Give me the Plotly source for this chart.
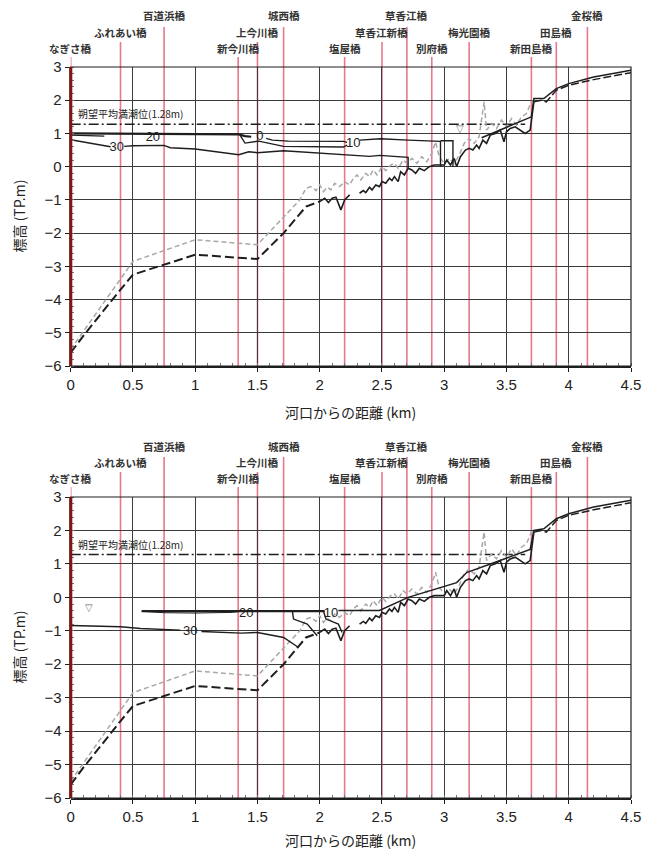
import plotly.graph_objects as go

# ---------------- data ----------------
bridge_names = ["なぎさ橋", "ふれあい橋", "百道浜橋", "新今川橋", "上今川橋", "城西橋", "塩屋橋",
                "草香江新橋", "草香江橋", "別府橋", "梅光園橋", "新田島橋", "田島橋", "金桜橋"]
bridge_km = [0.0, 0.40, 0.75, 1.345, 1.50, 1.71, 2.20, 2.50, 2.70, 2.90, 3.20, 3.70, 3.90, 4.15]
bridge_row = [3, 2, 1, 3, 2, 1, 3, 2, 1, 3, 2, 3, 2, 1]

x_ticks = [0, 0.5, 1, 1.5, 2, 2.5, 3, 3.5, 4, 4.5]
y_ticks = [-6, -5, -4, -3, -2, -1, 0, 1, 2, 3]

hwl_x = [0, 3.65]
hwl_y = [1.28, 1.28]
hwl_label = "朔望平均満潮位(1.28m)"

# bed profile (black long dash, smooth downstream part)
bed_dash_x = [0, 0.1, 0.4, 0.5, 0.75, 1.0, 1.5, 1.71, 1.89, 2.0]
bed_dash_y = [-5.6, -5.1, -3.7, -3.25, -2.95, -2.65, -2.78, -2.0, -1.2, -1.05]
# bed profile jagged (surveyed) part
bed_jag_x = [2.0, 2.04, 2.07, 2.1, 2.13, 2.17, 2.2, 2.24, None, 2.32, 2.35, 2.37, 2.40, 2.42,
             2.45, 2.48, 2.5, 2.53, 2.56, 2.58, 2.6, 2.63, 2.65, 2.68, 2.71, 2.74, 2.77, 2.8,
             2.84, 2.88, 2.92, 2.96, 3.0, 3.02, 3.05, 3.08, 3.1, 3.13, 3.17, 3.2, 3.23, 3.26,
             3.28, 3.31, 3.34, 3.37, 3.41, 3.45, 3.48, 3.5, 3.53, 3.57, 3.61, 3.65, 3.69, 3.72]
bed_jag_y = [-1.05, -0.95, -1.08, -0.95, -0.92, -1.3, -1.0, -0.85, None, -0.8, -0.72, -0.78, -0.62, -0.7,
             -0.55, -0.6, -0.45, -0.5, -0.35, -0.42, -0.3, -0.45, -0.15, -0.25, -0.05, -0.1, -0.2, -0.05,
             -0.12, 0.0, 0.05, 0.05, 0.05, 0.2, 0.05, 0.25, 0.0, 0.3, 0.5, 0.55, 0.5, 0.65,
             0.55, 0.8, 0.7, 0.95, 1.0, 1.1, 0.75, 1.05, 1.15, 1.2, 1.1, 1.0, 1.1, 1.95]
bed_up_x = [3.72, 3.78, 3.82, 3.9, 4.0, 4.2, 4.5]
bed_up_y = [1.95, 2.0, 1.95, 2.3, 2.45, 2.62, 2.83]

# older bed profile (light grey short dash)
bed2_x = [0, 0.5, 1.0, 1.5, 1.84, 1.89, 1.93, 1.97, 2.0, 2.03, 2.06, 2.09, 2.12, 2.16, 2.2, 2.24,
          2.27, 2.3, 2.33, 2.37, 2.4, 2.43, 2.46, 2.5, 2.53, 2.57, 2.6, 2.63, 2.67, 2.7, 2.74,
          2.78, 2.82, 2.86, 2.9, 2.93, 2.96, 3.0, 3.04, 3.08, 3.12, 3.16, 3.2, 3.24, 3.28, 3.3,
          3.32, 3.34, 3.38, 3.42, 3.46, 3.5, 3.54, 3.58, 3.62, 3.66, 3.7, 3.72]
bed2_y = [-5.5, -2.85, -2.2, -2.35, -1.0, -0.65, -0.6, -0.72, -0.55, -0.75, -0.62, -0.7, -0.5, -0.6, -0.45, -0.55,
          -0.35, -0.25, -0.4, -0.2, -0.3, -0.1, -0.25, 0.0, -0.12, 0.05, 0.1, -0.05, 0.2, 0.1, 0.25,
          0.1, 0.3, 0.15, 0.4, 0.75, 0.3, 0.1, 0.25, 0.1, 0.35, 0.7, 0.85, 0.7, 0.9, 1.45,
          1.95, 1.1, 1.3, 1.15, 1.4, 1.2, 1.45, 1.25, 1.5, 1.6, 1.95, 2.0]

# ---- upper panel: water surface / salinity contours ----
top_surf_x = [0, 0.6, 1.0, 1.35, 1.4, 1.45]
top_surf_y = [1.0, 0.99, 0.98, 0.97, 0.92, 0.9]
top_short_x = [0, 0.27]
top_short_y = [0.95, 0.92]
top_10a_x = [1.36, 1.40, 1.51, 1.71, 2.19, 2.22]
top_10a_y = [0.95, 0.71, 0.77, 0.61, 0.59, 0.65]
top_10b_x = [1.57, 1.62, 1.75, 2.19, 2.22]
top_10b_y = [0.85, 0.8, 0.77, 0.76, 0.73]
top_10c_x = [2.32, 2.49, 2.71, 2.97, 2.97, None, 2.97, 3.07, 3.07]
top_10c_y = [0.8, 0.84, 0.8, 0.76, 0.0, None, 0.78, 0.78, 0.0]
top_30_x = [0, 0.32, None, 0.43, 0.5, 0.75, 0.8, 1.0, 1.35, 1.43, 1.5, 1.71, 2.4, 2.48, 2.71, 2.71]
top_30_y = [0.81, 0.6, None, 0.61, 0.63, 0.64, 0.57, 0.53, 0.36, 0.45, 0.42, 0.48, 0.31, 0.34, 0.28, -0.05]
top_rise_x = [3.3, 3.7, 3.72, 3.8, 3.9, 4.0, 4.2, 4.5]
top_rise_y = [0.87, 1.5, 2.05, 2.05, 2.35, 2.5, 2.7, 2.9]
top_lab_text = ["0", "10", "20", "30"]
top_lab_x = [1.52, 2.27, 0.66, 0.37]
top_lab_y = [0.89, 0.69, 0.88, 0.56]
top_wl_x = [3.13]
top_wl_y = [1.12]

# ---- lower panel ----
bot_surf_x = [0.57, 2.04]
bot_surf_y = [-0.41, -0.41]
bot_surf2_x = [2.15, 2.48, 2.71, 3.1, 3.18, 3.69, 3.72, 3.8, 3.9, 4.0, 4.2, 4.5]
bot_surf2_y = [-0.39, -0.39, 0.0, 0.44, 0.74, 1.43, 2.0, 2.05, 2.35, 2.5, 2.7, 2.9]
bot_wedge_x = [0.57, 0.75, 1.0, 1.3, 1.36]
bot_wedge_y = [-0.42, -0.46, -0.47, -0.45, -0.42]
bot_30_x = [0, 0.4, 0.56, 0.88, None, 1.05, 1.37, 1.5, 1.71, 1.83]
bot_30_y = [-0.84, -0.88, -0.93, -0.98, None, -1.02, -1.07, -1.05, -1.2, -1.5]
bot_drop1_x = [1.78, 1.79, 1.9, 1.98]
bot_drop1_y = [-0.41, -0.65, -0.8, -1.15]
bot_drop2_x = [2.03, 2.05, 2.15, 2.18]
bot_drop2_y = [-0.41, -0.65, -0.8, -1.05]
bot_lab_text = ["20", "10", "30"]
bot_lab_x = [1.41, 2.09, 0.96]
bot_lab_y = [-0.5, -0.5, -1.04]
bot_wl_x = [0.15]
bot_wl_y = [-0.33]

# ---------------- figure ----------------
W, H = 658, 856
XL, XR = 70.7, 631.0
panels_px = [(67, 366), (497, 798)]   # (top, bottom) pixel rows of plot areas

BLACK = "#1e1e1e"
GRID = "#3c3c3c"
PINK = "rgb(232,120,140)"
DARKRED = "#7a1717"
GREY = "#a8a8a8"
LABEL_FONT = "Noto Sans CJK JP"
NUM_FONT = "Liberation Sans, Arial, sans-serif"

fig = go.Figure()


def line(xa, ya, x, y, color=BLACK, width=1.4, dash="solid"):
    fig.add_trace(go.Scatter(x=x, y=y, xaxis=xa, yaxis=ya, mode="lines",
                             line=dict(color=color, width=width, dash=dash),
                             connectgaps=False, showlegend=False, hoverinfo="skip"))


def text(xa, ya, x, y, t, size=12, color=BLACK):
    fig.add_trace(go.Scatter(x=x, y=y, xaxis=xa, yaxis=ya, mode="text", text=t,
                             textfont=dict(size=size, color=color, family=NUM_FONT),
                             showlegend=False, hoverinfo="skip", cliponaxis=False))


for i, (xa, ya) in enumerate([("x", "y"), ("x2", "y2")]):
    # reference lines and beds
    line(xa, ya, hwl_x, hwl_y, color=BLACK, width=1.5, dash="10px,3px,2px,3px")
    line(xa, ya, bed2_x, bed2_y, color=GREY, width=1.5, dash="5px,3px")
    line(xa, ya, bed_dash_x, bed_dash_y, color=BLACK, width=2, dash="9px,4px")
    line(xa, ya, bed_jag_x, bed_jag_y, color=BLACK, width=1.6)
    line(xa, ya, bed_up_x, bed_up_y, color=BLACK, width=1.5, dash="8px,3px")

    if i == 0:
        line(xa, ya, top_surf_x, top_surf_y, width=2.2)
        line(xa, ya, top_short_x, top_short_y, width=1.4)
        line(xa, ya, top_10a_x, top_10a_y)
        line(xa, ya, top_10b_x, top_10b_y)
        line(xa, ya, top_10c_x, top_10c_y)
        line(xa, ya, top_30_x, top_30_y)
        line(xa, ya, top_rise_x, top_rise_y, width=1.5)
        text(xa, ya, top_lab_x, top_lab_y, top_lab_text, size=13)
        text(xa, ya, top_wl_x, top_wl_y, ["▽"], size=10, color="#777")
    else:
        line(xa, ya, bot_surf_x, bot_surf_y, width=2.2)
        line(xa, ya, bot_surf2_x, bot_surf2_y, width=1.5)
        line(xa, ya, bot_wedge_x, bot_wedge_y, width=1.0)
        line(xa, ya, bot_30_x, bot_30_y)
        line(xa, ya, bot_drop1_x, bot_drop1_y)
        line(xa, ya, bot_drop2_x, bot_drop2_y)
        text(xa, ya, bot_lab_x, bot_lab_y, bot_lab_text, size=13)
        text(xa, ya, bot_wl_x, bot_wl_y, ["▽"], size=10, color="#777")

    # HWL label
    fig.add_annotation(x=hwl_x[0] + 0.04, y=hwl_y[0], xref=xa, yref=ya, text=hwl_label,
                       showarrow=False, xanchor="left", yanchor="bottom", yshift=1,
                       font=dict(family=LABEL_FONT, size=10, color="#222"))

    top_px, bot_px = panels_px[i]
    ph = bot_px - top_px
    row_center = {1: 1 + 51 / ph, 2: 1 + 35 / ph, 3: 1 + 19 / ph}
    row_line_top = {1: 1 + 40 / ph, 2: 1 + 25 / ph, 3: 1 + 10 / ph}

    for name, km, r in zip(bridge_names, bridge_km, bridge_row):
        fig.add_shape(type="line", xref=xa, yref=f"{ya} domain", x0=km, x1=km,
                      y0=0, y1=row_line_top[r], line=dict(color=PINK, width=1.6), layer="below")
        fig.add_annotation(x=km, y=row_center[r], xref=xa, yref=f"{ya} domain", text=f"<b>{name}</b>",
                           showarrow=False, xanchor="center", yanchor="middle",
                           font=dict(family=LABEL_FONT, size=10.5, color="#333"))

    # frame and red y-axis line
    fig.add_shape(type="rect", xref=f"{xa} domain", yref=f"{ya} domain", x0=0, x1=1, y0=0, y1=1,
                  line=dict(color=BLACK, width=1.2), layer="above")
    fig.add_shape(type="line", xref=f"{xa} domain", yref=f"{ya} domain", x0=0, x1=0, y0=0, y1=1,
                  line=dict(color=DARKRED, width=3.2), layer="above")

    # axis titles
    cy = 1 - (top_px + bot_px) / 2 / H
    fig.add_annotation(x=18 / W, y=cy, xref="paper", yref="paper", text="標高 (TP.m)",
                       textangle=-90, showarrow=False, xanchor="center", yanchor="middle",
                       font=dict(family=LABEL_FONT, size=14, color="#222"))
    fig.add_annotation(x=(XL + XR) / 2 / W, y=1 - (bot_px + (46 if i == 0 else 42)) / H,
                       xref="paper", yref="paper",
                       text="河口からの距離 (km)", showarrow=False, xanchor="center", yanchor="middle",
                       font=dict(family=LABEL_FONT, size=14, color="#222"))

axis_common_x = dict(range=[0, 4.5], tickvals=x_ticks, ticktext=[f"{v:g}" for v in x_ticks],
                     showgrid=True, gridcolor=GRID, gridwidth=1, zeroline=False,
                     showline=True, linecolor=BLACK, linewidth=2.2,
                     ticks="outside", ticklen=4, tickcolor=BLACK,
                     tickfont=dict(family=NUM_FONT, size=15, color="#222"),
                     minor=dict(ticks="inside", dtick=0.1, ticklen=3, tickcolor="#777", showgrid=False))
axis_common_y = dict(range=[-6, 3], tickvals=y_ticks, ticktext=[f"{v:g}".replace("-", "−") for v in y_ticks],
                     showgrid=True, gridcolor=GRID, gridwidth=1, zeroline=False, showline=False,
                     ticks="outside", ticklen=5, tickcolor=BLACK,
                     tickfont=dict(family=NUM_FONT, size=15, color="#222"),
                     minor=dict(ticks="inside", dtick=0.2, ticklen=3, tickcolor="#777", showgrid=False))

xdom = [XL / W, XR / W]
ydoms = [[1 - b / H, 1 - t / H] for (t, b) in panels_px]

fig.update_layout(
    width=W, height=H, margin=dict(l=0, r=0, t=0, b=0, autoexpand=False),
    paper_bgcolor="white", plot_bgcolor="rgba(0,0,0,0)", showlegend=False,
    xaxis=dict(domain=xdom, anchor="y", automargin=False, **axis_common_x),
    yaxis=dict(domain=ydoms[0], anchor="x", automargin=False, **axis_common_y),
    xaxis2=dict(domain=xdom, anchor="y2", automargin=False, **axis_common_x),
    yaxis2=dict(domain=ydoms[1], anchor="x2", automargin=False, **axis_common_y),
)

fig.write_html("out.html", config={"displayModeBar": False, "staticPlot": True},
               post_script="document.body.style.margin='0';document.body.style.overflow='hidden';")
